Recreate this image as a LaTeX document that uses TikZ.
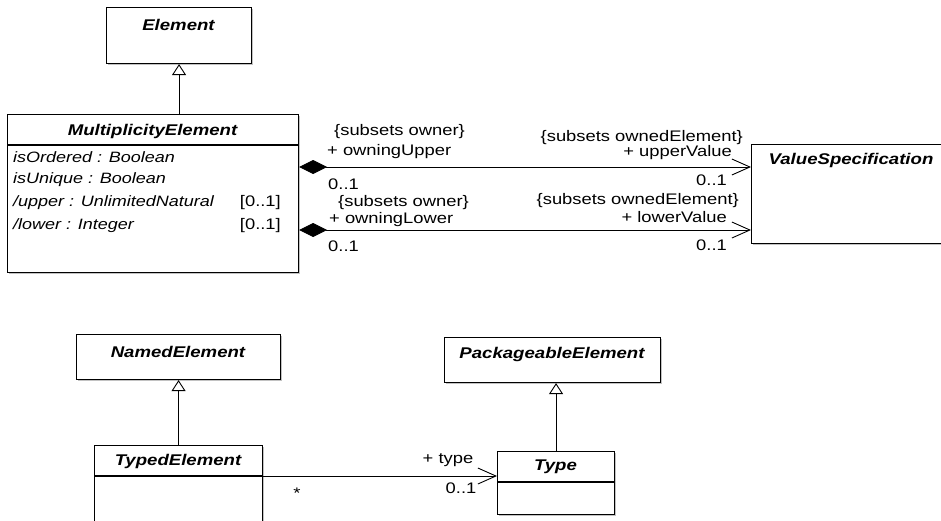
\documentclass[tikz,border=0pt]{standalone}
\usepackage{fontspec}
\setmainfont{Liberation Sans}[FakeStretch=1.2]
\usetikzlibrary{arrows.meta,shadows}
\begin{document}
\begin{tikzpicture}[x=1pt,y=-1pt,
  cls/.style={draw, line width=1.1pt, fill=white, inner sep=0pt, anchor=north west,
    drop shadow={shadow xshift=1.6pt, shadow yshift=-1.6pt, fill=black!40, opacity=0.6}},
  cname/.style={font=\fontsize{15.5}{18}\selectfont\bfseries\itshape, inner sep=0pt},
  attr/.style={font=\fontsize{15}{18}\selectfont\itshape, inner sep=0pt, anchor=west},
  lbl/.style={font=\fontsize{15.3}{18}\selectfont, inner sep=0pt},
  div/.style={line width=1.1pt},
  gen/.style={line width=0.9pt, -{Triangle[open, length=11pt, width=14pt, fill=white, line width=0.9pt]}},
  comp/.style={line width=0.9pt, {Diamond[length=28pt, width=14pt]}-{Straight Barb[length=18pt, width=16pt, line width=0.9pt]}},
  nav/.style={line width=0.9pt, -{Straight Barb[length=18pt, width=16pt, line width=0.9pt]}}
]
\useasboundingbox (0,0) rectangle (941,520);

% boxes
\node[cls, minimum width=145pt, minimum height=56pt] (element) at (106,7) {};
\node[cls, minimum width=291pt, minimum height=158pt] (me) at (7,114) {};
\node[cls, minimum width=194pt, minimum height=99pt] (vs) at (751,144) {};
\node[cls, minimum width=204pt, minimum height=45pt] (named) at (76,334) {};
\node[cls, minimum width=216pt, minimum height=45pt] (pe) at (444,337) {};
\node[cls, minimum width=168pt, minimum height=90pt] (typed) at (94,445) {};
\node[cls, minimum width=117pt, minimum height=63pt] (type) at (497,451) {};

% names
\node[cname] (elementname) at (178.5,25) {Element};
\node[cname] (mename) at (152.5,131) {MultiplicityElement};
\node[cname] (vsname) at (851,160) {ValueSpecification};
\node[cname] (namedname) at (178,352) {NamedElement};
\node[cname] (pename) at (552,354) {PackageableElement};
\node[cname] (typedname) at (178,461) {TypedElement};
\node[cname] (typename) at (555.5,467) {Type};

% compartments
\draw[div] (me.west |- 0,145) -- (me.east |- 0,145);
\draw[div] (typed.west |- 0,476) -- (typed.east |- 0,476);
\draw[div] (type.west |- 0,482) -- (type.east |- 0,482);

% attributes
\node[attr] (a1) at (13,157) {isOrdered : Boolean};
\node[attr] (a2) at (13,180) {isUnique : Boolean};
\node[attr] (a3) at (13,203) {/upper : UnlimitedNatural};
\node[attr] (a4) at (13,226) {/lower : Integer};
\node[lbl, anchor=east] (m3) at (281,203) {[0..1]};
\node[lbl, anchor=east] (m4) at (281,226) {[0..1]};

% generalizations
\draw[gen] (element.south |- me.north) -- (element.south);
\draw[gen] (named.south |- typed.north) -- (named.south);
\draw[gen] (type.north) -- (type.north |- pe.south);

% compositions
\coordinate (uy) at (0,167);
\coordinate (ly) at (0,230);
\draw[comp] (me.east |- uy) -- (vs.west |- uy);
\draw[comp] (me.east |- ly) -- (vs.west |- ly);

\node[lbl, anchor=west] (l1) at (334,132) {\{subsets owner\}};
\node[lbl, anchor=west] (l2) at (327,152) {+ owningUpper};
\node[lbl, anchor=west] (l3) at (328,184) {0..1};
\node[lbl, anchor=east] (l4) at (743,138) {\{subsets ownedElement\}};
\node[lbl, anchor=east] (l5) at (732,153) {+ upperValue};
\node[lbl, anchor=east] (l6) at (727,180) {0..1};

\node[lbl, anchor=west] (l7) at (338,203) {\{subsets owner\}};
\node[lbl, anchor=west] (l8) at (329,220) {+ owningLower};
\node[lbl, anchor=west] (l9) at (328,246) {0..1};
\node[lbl, anchor=east] (l10) at (739,201) {\{subsets ownedElement\}};
\node[lbl, anchor=east] (l11) at (727,217) {+ lowerValue};
\node[lbl, anchor=east] (l12) at (727,245) {0..1};

% typed -> type
\coordinate (ty) at (0,476);
\draw[nav] (typed.east |- ty) -- (type.west |- ty);
\node[lbl] (t1) at (448,460) {+ type};
\node[lbl] (t2) at (461,488) {0..1};
\node[lbl] (t3) at (297,493) {*};
\end{tikzpicture}
\end{document}
